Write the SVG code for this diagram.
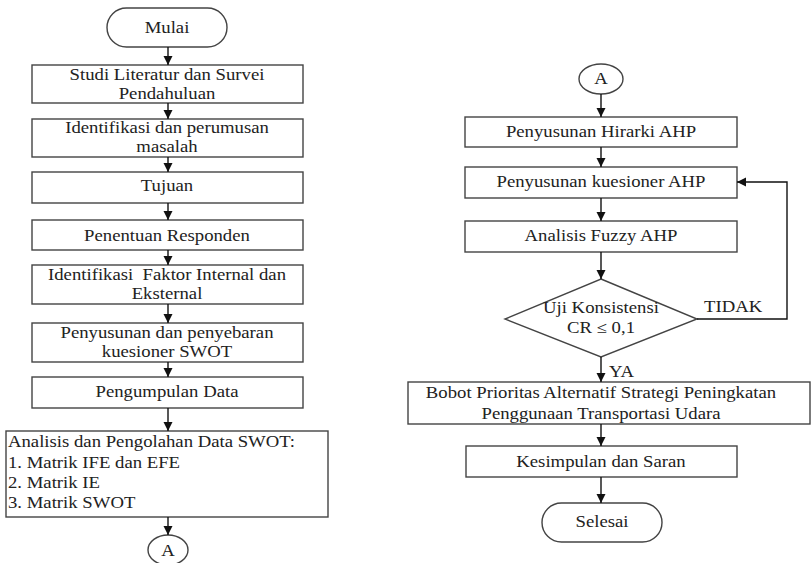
<svg xmlns="http://www.w3.org/2000/svg" width="811" height="563" viewBox="0 0 811 563">
<defs>
<marker id="ah" markerWidth="10" markerHeight="10" refX="9" refY="5" orient="auto" markerUnits="userSpaceOnUse">
<path d="M0,0.5 L9,5 L0,9.5 Z" fill="#111"/>
</marker>
<style>
.b{fill:#fff;stroke:#444;stroke-width:1.4}
.t{font-family:'Liberation Serif','DejaVu Serif','Times New Roman',serif;font-size:16px;fill:#222;text-anchor:middle}
.l{text-anchor:start}
.c{fill:none;stroke:#111;stroke-width:1.4;marker-end:url(#ah)}
</style>
</defs>
<rect width="811" height="563" fill="#fff"/>
<g id="mulai"><rect class="b" x="107" y="8" width="120" height="39" rx="19.5"/><text class="t" transform="translate(167,33) scale(1.17,1)">Mulai</text></g>
<g id="studi"><rect class="b" x="32" y="65" width="271" height="38"/><text class="t" transform="translate(167,80) scale(1.17,1)">Studi Literatur dan Survei</text><text class="t" transform="translate(167,99) scale(1.17,1)">Pendahuluan</text></g>
<g id="identifikasi"><rect class="b" x="32" y="119" width="271" height="38"/><text class="t" transform="translate(167,133) scale(1.17,1)">Identifikasi dan perumusan</text><text class="t" transform="translate(167,152) scale(1.17,1)">masalah</text></g>
<g id="tujuan"><rect class="b" x="32" y="172" width="271" height="31"/><text class="t" transform="translate(167,191) scale(1.17,1)">Tujuan</text></g>
<g id="responden"><rect class="b" x="32" y="220" width="271" height="30"/><text class="t" transform="translate(167,241) scale(1.17,1)">Penentuan Responden</text></g>
<g id="faktor"><rect class="b" x="32" y="265" width="271" height="39"/><text class="t" transform="translate(167,280) scale(1.17,1)" xml:space="preserve">Identifikasi  Faktor Internal dan</text><text class="t" transform="translate(167,299) scale(1.17,1)">Eksternal</text></g>
<g id="penyebaran"><rect class="b" x="32" y="323" width="271" height="39"/><text class="t" transform="translate(167,338) scale(1.17,1)">Penyusunan dan penyebaran</text><text class="t" transform="translate(167,357) scale(1.17,1)">kuesioner SWOT</text></g>
<g id="pengumpulan"><rect class="b" x="32" y="377" width="271" height="31"/><text class="t" transform="translate(167,397) scale(1.17,1)">Pengumpulan Data</text></g>
<g id="analisis"><rect class="b" x="6" y="431" width="322" height="86"/><text class="t l" transform="translate(8,447) scale(1.17,1)">Analisis dan Pengolahan Data SWOT:</text><text class="t l" transform="translate(8,468) scale(1.17,1)">1. Matrik IFE dan EFE</text><text class="t l" transform="translate(8,488) scale(1.17,1)">2. Matrik IE</text><text class="t l" transform="translate(8,508) scale(1.17,1)">3. Matrik SWOT</text></g>
<g id="a1"><ellipse class="b" cx="168" cy="550" rx="20" ry="15"/><text class="t" transform="translate(168,556) scale(1.17,1)">A</text></g>
<g id="a2"><ellipse class="b" cx="601" cy="79" rx="22" ry="15"/><text class="t" transform="translate(601,84) scale(1.17,1)">A</text></g>
<g id="hirarki"><rect class="b" x="465" y="117" width="272" height="30"/><text class="t" transform="translate(601,137) scale(1.17,1)">Penyusunan Hirarki AHP</text></g>
<g id="kuesioner"><rect class="b" x="465" y="167" width="272" height="31"/><text class="t" transform="translate(601,187) scale(1.17,1)">Penyusunan kuesioner AHP</text></g>
<g id="fuzzy"><rect class="b" x="465" y="221" width="272" height="31"/><text class="t" transform="translate(601,241) scale(1.17,1)">Analisis Fuzzy AHP</text></g>
<g id="uji"><polygon class="b" points="601,279 697,319 601,357 505,319"/><text class="t" transform="translate(601,313) scale(1.17,1)">Uji Konsistensi</text><text class="t" transform="translate(601,333) scale(1.17,1)">CR ≤ 0,1</text></g>
<g id="bobot"><rect class="b" x="408" y="382" width="402" height="42"/><text class="t" transform="translate(601,398) scale(1.17,1)">Bobot Prioritas Alternatif Strategi Peningkatan</text><text class="t" transform="translate(601,419) scale(1.17,1)">Penggunaan Transportasi Udara</text></g>
<g id="kesimpulan"><rect class="b" x="466" y="446" width="271" height="31"/><text class="t" transform="translate(601,467) scale(1.17,1)">Kesimpulan dan Saran</text></g>
<g id="selesai"><rect class="b" x="542" y="503" width="120" height="39" rx="19.5"/><text class="t" transform="translate(602,527) scale(1.17,1)">Selesai</text></g>
<g id="connectors">
<line class="c" x1="168" y1="47" x2="168" y2="65"/>
<line class="c" x1="168" y1="103" x2="168" y2="119"/>
<line class="c" x1="168" y1="157" x2="168" y2="172"/>
<line class="c" x1="168" y1="203" x2="168" y2="220"/>
<line class="c" x1="168" y1="250" x2="168" y2="265"/>
<line class="c" x1="168" y1="304" x2="168" y2="323"/>
<line class="c" x1="168" y1="362" x2="168" y2="377"/>
<line class="c" x1="168" y1="408" x2="168" y2="431"/>
<line class="c" x1="168" y1="517" x2="168" y2="535"/>
<line class="c" x1="601" y1="94" x2="601" y2="117"/>
<line class="c" x1="601" y1="147" x2="601" y2="167"/>
<line class="c" x1="601" y1="198" x2="601" y2="221"/>
<line class="c" x1="601" y1="252" x2="601" y2="279"/>
<line class="c" x1="601" y1="357" x2="601" y2="382"/>
<line class="c" x1="601" y1="424" x2="601" y2="446"/>
<line class="c" x1="601" y1="477" x2="601" y2="503"/>
<polyline class="c" points="697,319 787,319 787,182 737,182"/>
<text class="t l" transform="translate(704,312) scale(1.17,1)">TIDAK</text>
<text class="t l" transform="translate(609,377) scale(1.17,1)">YA</text>
</g>
</svg>
